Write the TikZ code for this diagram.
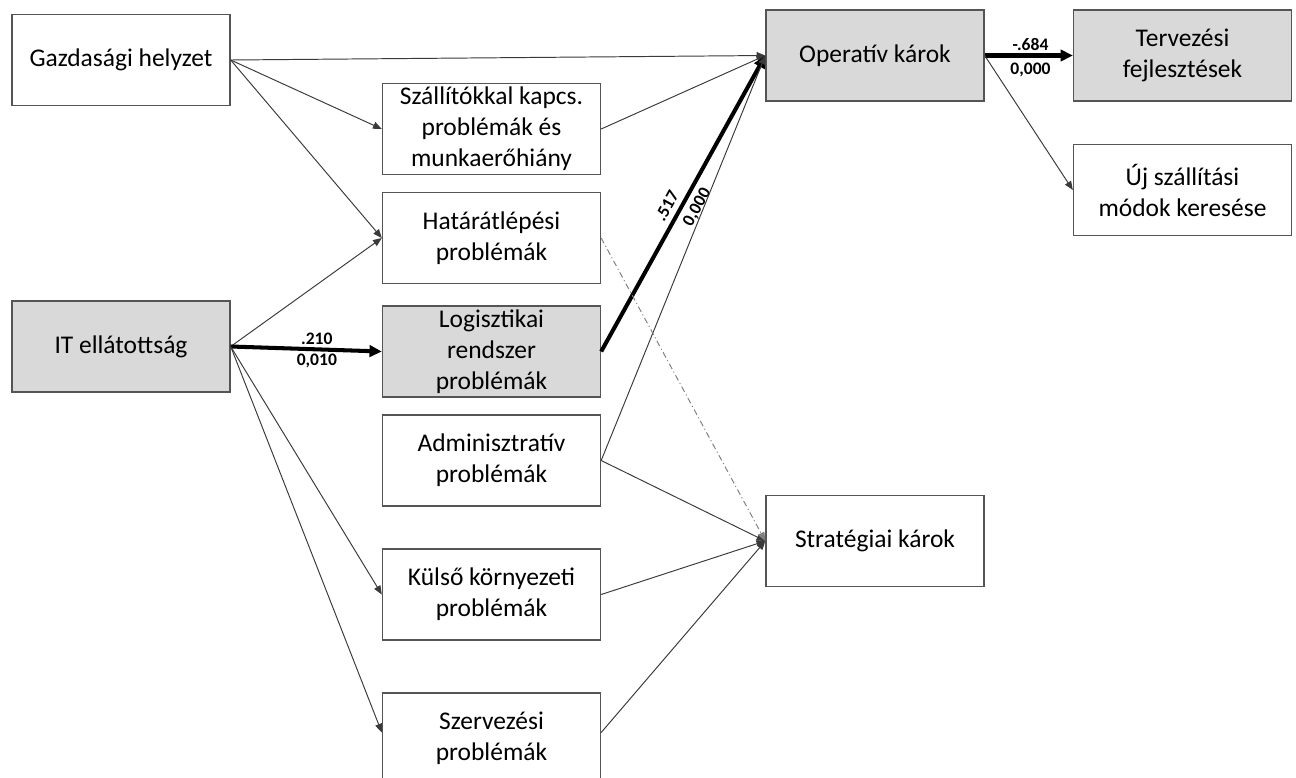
\documentclass[tikz,border=0pt]{standalone}
\usepackage{fontspec}
\setmainfont{Carlito}
\usepackage{xcolor}
\usepackage{tikz}
\usetikzlibrary{arrows.meta,positioning}
\definecolor{boxline}{HTML}{555555}
\definecolor{boxgray}{HTML}{D9D9D9}
\definecolor{arrline}{HTML}{3A3A3A}
\newcommand{\coef}[1]{\bfseries\fontsize{10}{11}\selectfont #1}

\begin{document}
\begin{tikzpicture}[
  x=0.02cm, y=-0.02cm,
  block/.style={draw=boxline, line width=0.8pt, minimum width=4.36cm,
    minimum height=1.82cm, align=center, inner sep=0pt,
    font=\fontsize{14.5}{17.6}\selectfont},
  shaded/.style={block, fill=boxgray},
  arr/.style={-{Triangle[length=5pt, width=4pt]}, line width=0.55pt, draw=arrline},
  link/.style={line width=0.55pt, draw=arrline},
  sig/.style={-{Triangle[length=7pt, width=6.5pt]}, line width=2.3pt},
  lab/.style={font=\coef{}, inner sep=1.5pt},
  >=Triangle
]
  \useasboundingbox (0,0) rectangle (1296,778);

  % input factors (left)
  \node[block] (gaz) at (121, 60) {Gazdasági helyzet};
  \node[shaded] (it) at (121, 346.5) {IT ellátottság};

  % problem groups (middle column)
  \node[block] (szall) at (491.5, 129) {Szállítókkal kapcs.\\problémák és\\munkaerőhiány};
  \node[block] (hatar) at (491.5, 238) {Határátlépési\\problémák};
  \node[shaded] (logi) at (491.5, 351.5) {Logisztikai\\rendszer\\problémák};
  \node[block] (admin) at (491.5, 460.5) {Adminisztratív\\problémák};
  \node[block] (kulso) at (491.5, 594.5) {Külső környezeti\\problémák};
  \node[block] (szerv) at (491.5, 738.5) {Szervezési\\problémák};

  % damages
  \node[shaded] (oper) at (875, 55.5) {Operatív károk};
  \node[block] (strat) at (875, 541) {Stratégiai károk};

  % responses (right)
  \node[shaded] (terv) at (1182.5, 55.5) {Tervezési\\fejlesztések};
  \node[block] (uj) at (1182.5, 190) {Új szállítási\\módok keresése};

  % paths from the inputs
  \draw[arr] (gaz.east) -- (oper.west);
  \draw[arr] (gaz.east) -- (szall.west);
  \draw[arr] (gaz.east) -- (hatar.west);
  \draw[arr] (it.east) -- (hatar.west);
  \draw[sig] (it.east) -- node[lab, above, pos=0.57] {.210}
    node[lab, below, pos=0.57] {0,010} (logi.west);
  \draw[arr] (it.east) -- (kulso.west);
  \draw[arr] (it.east) -- ([yshift=0.12cm]szerv.west);

  % paths to the damages
  \draw[arr] (szall.east) -- (oper.west);
  \draw[sig] (logi.east) -- node[lab, above, sloped, pos=0.47, inner sep=3pt] {.517}
    node[lab, below, sloped, pos=0.51, inner sep=3pt] {0,000} (oper.west);
  \draw[arr] (admin.east) -- (oper.west);
  \draw[arr] (admin.east) -- (strat.west);
  \draw[link, -{Triangle[length=5pt, width=4pt]}, gray,
    dash pattern=on 3.4pt off 1.7pt on 0.6pt off 1.7pt] (hatar.east) -- (strat.west);
  \draw[arr] (kulso.east) -- (strat.west);
  \draw[arr] ([yshift=0.12cm]szerv.east) -- (strat.west);

  % paths to the responses
  \draw[sig] (oper.east) -- node[lab, above, pos=0.52] {-.684}
    node[lab, below, pos=0.52, inner sep=3pt] {0,000} (terv.west);
  \draw[arr] (oper.east) -- (uj.west);
\end{tikzpicture}
\end{document}
